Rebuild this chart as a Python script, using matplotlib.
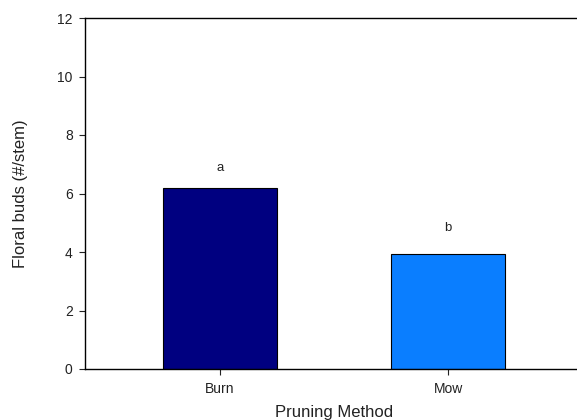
import matplotlib
matplotlib.use("Agg")
import matplotlib.pyplot as plt

categories = ["Burn", "Mow"]
values = [6.2, 3.93]
letters = ["a", "b"]
letter_y = [6.87, 4.82]
colors = ["#000080", "#0A7EFF"]

plt.rcParams['font.family'] = ['Liberation Sans', 'DejaVu Sans']

fig = plt.figure(figsize=(5.77, 4.2), dpi=100)
ax = fig.add_axes([84.5/577, 51/420, 499/577, 351/420])
x = list(range(len(categories)))
ax.bar(x, values, width=0.5, color=colors, edgecolor="black", linewidth=0.8)
for xi, l, ly in zip(x, letters, letter_y):
    ax.text(xi, ly, l, ha="center", va="center", fontsize=9.5, color="#222222")

ax.set_xlim(-0.594, 1.594)
ax.set_ylim(0, 12)
ax.set_yticks([0, 2, 4, 6, 8, 10, 12])
ax.set_xticks(x)
ax.set_xticklabels(categories)
ax.spines['right'].set_visible(False)
for s in ['left', 'bottom', 'top']:
    ax.spines[s].set_linewidth(1.0)
ax.tick_params(axis='both', direction='out', length=4.5, width=0.8, labelsize=10, colors='#222222')
ax.tick_params(axis='x', pad=5)
ax.tick_params(axis='y', pad=4)
ax.set_xlabel("Pruning Method", fontsize=12, color="#222222", labelpad=6.5)
ax.set_ylabel("Floral buds (#/stem)", fontsize=12, color="#222222", labelpad=21)

fig.savefig("out.png", dpi=100)
